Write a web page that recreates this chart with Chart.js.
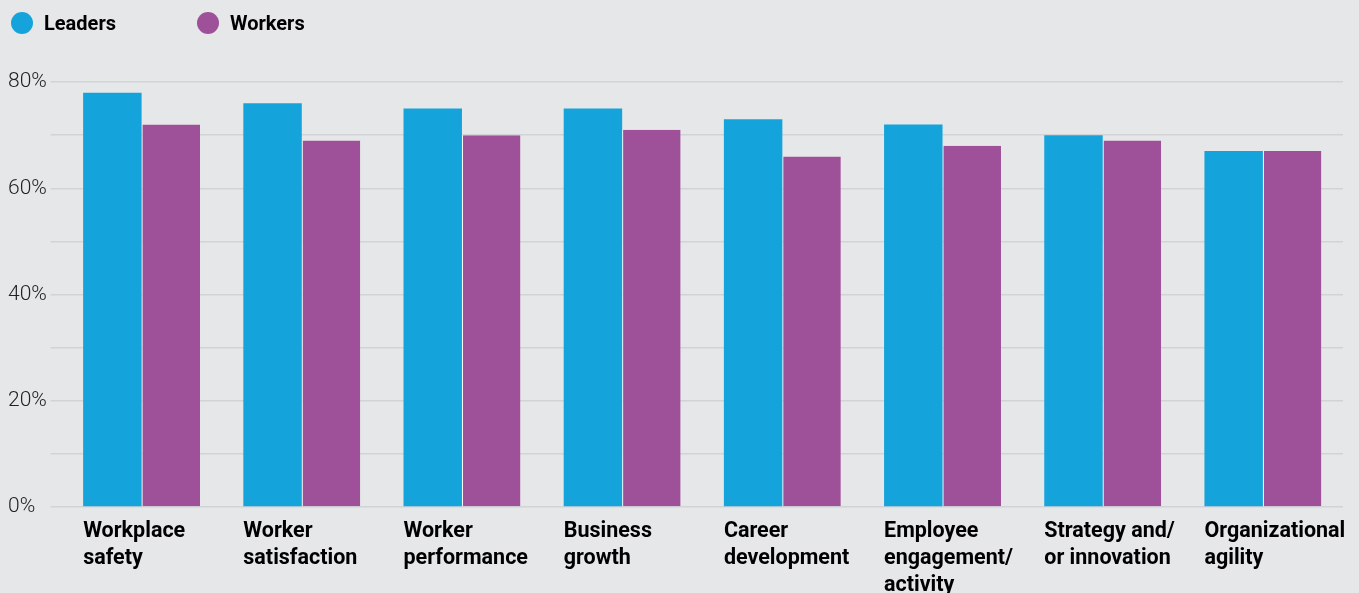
<!DOCTYPE html>
<html>
<head>
<meta charset="utf-8">
<script src="https://cdn.jsdelivr.net/npm/chart.js@4/dist/chart.umd.min.js"></script>
<style>
  html, body { margin: 0; padding: 0; background: #e6e7e9; }
  .wrap { position: relative; width: 1359px; height: 593px; }
  .legend { position: absolute; top: 0; left: 0; height: 44px; width: 100%; }
  .legend-item { position: absolute; top: 11px; display: flex; align-items: center;
    font-family: "Liberation Sans Narrow", "Roboto", sans-serif; font-weight: bold; font-size: 20px; color: #000; }
  .dot { width: 22px; height: 22px; border-radius: 50%; margin-right: 11px; }
  canvas { position: absolute; top: 0; left: 0; }
</style>
</head>
<body>
<div class="wrap">
  <canvas id="chart" width="1359" height="593"></canvas>
  <div class="legend">
    <div class="legend-item" style="left:11px"><span class="dot" style="background:#15a3dc"></span>Leaders</div>
    <div class="legend-item" style="left:197px"><span class="dot" style="background:#9e5199"></span>Workers</div>
  </div>
</div>
<script>
const categories = [
  ['Workplace', 'safety'],
  ['Worker', 'satisfaction'],
  ['Worker', 'performance'],
  ['Business', 'growth'],
  ['Career', 'development'],
  ['Employee', 'engagement/', 'activity'],
  ['Strategy and/', 'or innovation'],
  ['Organizational', 'agility']
];
const leaders = [78, 76, 75, 75, 73, 72, 70, 67];
const workers = [72, 69, 70, 71, 66, 68, 69, 67];
const yTicks = [0, 20, 40, 60, 80];

const labelFont = 'bold 21.5px "Liberation Sans Narrow", "Roboto", sans-serif';

// category labels are left-aligned to the bar group, so draw them by hand
const groupLabels = {
  id: 'groupLabels',
  afterDraw(chart) {
    const ctx = chart.ctx;
    const bars = chart.getDatasetMeta(0).data;
    ctx.save();
    ctx.font = labelFont;
    ctx.fillStyle = '#000';
    ctx.textAlign = 'left';
    ctx.textBaseline = 'alphabetic';
    categories.forEach((lines, i) => {
      const bar = bars[i];
      const left = bar.x - bar.width / 2;
      lines.forEach((line, j) => {
        ctx.fillText(line, left, chart.chartArea.bottom + 30 + j * 27);
      });
    });
    ctx.restore();
  }
};

new Chart(document.getElementById('chart'), {
  type: 'bar',
  data: {
    labels: categories.map(c => c.join(' ')),
    datasets: [
      {
        label: 'Leaders',
        data: leaders,
        backgroundColor: '#15a3dc',
        borderWidth: 0
      },
      {
        label: 'Workers',
        data: workers,
        backgroundColor: '#9e5199',
        borderColor: '#ffffff',
        borderWidth: { left: 1, right: 0, top: 0, bottom: 0 },
        borderSkipped: false
      }
    ]
  },
  options: {
    responsive: false,
    animation: false,
    layout: { padding: { top: 82, left: 8, right: 16, bottom: 0 } },
    datasets: { bar: { categoryPercentage: 0.73, barPercentage: 1 } },
    plugins: {
      legend: { display: false },
      tooltip: { enabled: false }
    },
    scales: {
      x: {
        grid: { display: false },
        border: { display: false },
        ticks: { display: false },
        afterFit(scale) { scale.height = 86; }
      },
      y: {
        min: 0,
        max: 80,
        border: { display: false },
        grid: { color: '#d2d3d6', lineWidth: 1.5, tickLength: 11 },
        ticks: {
          stepSize: 10,
          crossAlign: 'far',
          padding: 0,
          color: '#222',
          font: { family: 'Roboto', weight: 300, size: 21 },
          callback: v => yTicks.includes(v) ? v + '%' : ''
        },
        afterFit(scale) { scale.width = 53.5; }
      }
    }
  },
  plugins: [groupLabels]
});
</script>
</body>
</html>
